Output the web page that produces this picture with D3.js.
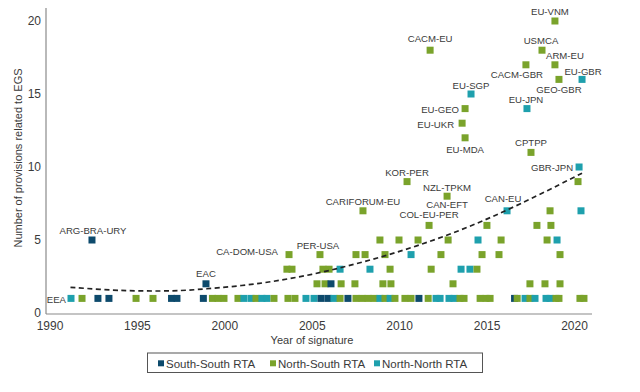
<!DOCTYPE html>
<html>
<head>
<meta charset="utf-8">
<script src="https://cdn.jsdelivr.net/npm/d3@7"></script>
<style>
  html, body { margin: 0; padding: 0; background: #fff; }
  svg { display: block; font-family: "Liberation Sans", Arial, sans-serif; }
</style>
</head>
<body>
<svg id="chart" width="640" height="392"></svg>
<script>
// ---------- DATA ----------
const seriesNames = ["South-South RTA", "North-South RTA", "North-North RTA"];
const yTicks = [0, 5, 10, 15, 20];
const xTicks = [1990, 1995, 2000, 2005, 2010, 2015, 2020];

// South-South RTAs: [year of signature, number of EGS provisions]
const southSouth = [
  [1992.43, 5], [1992.77, 1], [1993.40, 1], [1996.98, 1], [1997.29, 1],
  [1998.80, 1], [1998.95, 2], [2005.53, 1], [2005.93, 1], [2006.10, 2],
  [2007.07, 1], [2011.13, 1], [2016.60, 1]
];

// North-South RTAs
const northSouth = [
  // value 1
  [1991.86, 1], [1994.95, 1], [1995.92, 1], [1999.32, 1], [1999.64, 1], [1999.98, 1],
  [2000.78, 1], [2001.81, 1], [2002.84, 1], [2003.64, 1], [2004.04, 1], [2006.62, 1],
  [2007.53, 1], [2007.88, 1], [2008.22, 1], [2008.56, 1], [2009.19, 1], [2009.76, 1],
  [2010.33, 1], [2010.68, 1], [2011.66, 1], [2013.48, 1], [2013.71, 1], [2014.63, 1],
  [2014.97, 1], [2015.20, 1], [2016.75, 1], [2017.48, 1], [2018.97, 1], [2019.14, 1],
  [2020.34, 1], [2020.57, 1],
  // value 2
  [2005.30, 2], [2005.76, 2], [2006.68, 2], [2007.47, 2], [2009.07, 2], [2009.53, 2],
  [2013.08, 2], [2017.48, 2], [2018.34, 2], [2019.20, 2],
  // value 3
  [2003.58, 3], [2003.87, 3], [2005.64, 3], [2005.99, 3], [2009.48, 3], [2011.83, 3],
  [2014.45, 3],
  // value 4
  [2003.70, 4], [2005.47, 4], [2007.53, 4], [2008.05, 4], [2009.19, 4], [2012.39, 4],
  [2014.74, 4], [2015.71, 4], [2019.20, 4],
  // value 5
  [2008.90, 5], [2009.99, 5], [2011.08, 5], [2012.80, 5], [2015.83, 5], [2018.46, 5],
  // value 6
  [2011.71, 6], [2015.02, 6], [2017.88, 6], [2018.68, 6],
  // value 7+
  [2007.93, 7], [2018.63, 7], [2012.74, 8], [2010.45, 9], [2020.23, 9],
  [2017.54, 11], [2013.77, 12], [2013.60, 13], [2013.77, 14], [2019.14, 16],
  [2017.25, 17], [2018.91, 17], [2011.77, 18], [2018.17, 18], [2018.91, 20]
];

// North-North RTAs
const northNorth = [
  [1991.23, 1], [2001.12, 1], [2001.53, 1], [2002.15, 1], [2002.44, 1], [2004.67, 1],
  [2005.13, 1], [2006.27, 1], [2008.90, 1], [2009.48, 1], [2012.11, 1], [2012.34, 1],
  [2012.85, 1], [2013.14, 1], [2017.20, 1], [2017.77, 1], [2018.40, 1], [2018.63, 1],
  [2006.62, 3], [2008.33, 3], [2013.54, 3], [2014.05, 3],
  [2010.68, 4], [2014.51, 5], [2019.03, 5],
  [2016.17, 7], [2020.40, 7], [2020.29, 10], [2017.31, 14], [2014.11, 15], [2020.46, 16]
];

// Labelled agreements: [name, year, value]
const labelNames = [
  ["EEA", 1991.23, 1], ["ARG-BRA-URY", 1992.43, 5], ["EAC", 1998.95, 2],
  ["CA-DOM-USA", 2003.70, 4], ["PER-USA", 2005.47, 4], ["CARIFORUM-EU", 2007.93, 7],
  ["KOR-PER", 2010.45, 9], ["NZL-TPKM", 2012.74, 8], ["CAN-EFT", 2012.74, 8],
  ["COL-EU-PER", 2011.71, 6], ["CAN-EU", 2016.17, 7], ["GBR-JPN", 2020.29, 10],
  ["CPTPP", 2017.54, 11], ["EU-MDA", 2013.77, 12], ["EU-UKR", 2013.60, 13],
  ["EU-GEO", 2013.77, 14], ["EU-SGP", 2014.11, 15], ["EU-JPN", 2017.31, 14],
  ["CACM-EU", 2011.77, 18], ["CACM-GBR", 2017.25, 17], ["GEO-GBR", 2019.14, 16],
  ["EU-GBR", 2020.46, 16], ["ARM-EU", 2018.91, 17], ["USMCA", 2018.17, 18],
  ["EU-VNM", 2018.91, 20]
];

// Dashed trend curve: [year, value]
const trendYears  = [1991.2, 1994, 1997, 1999, 2002, 2005, 2008, 2011, 2014, 2017, 2020.5];
const trendValues = [1.76, 1.55, 1.52, 1.66, 2.03, 2.65, 3.52, 4.6, 5.92, 7.52, 9.6];

// ---------- LAYOUT / STYLE ----------
const colors = { "South-South RTA": "#0d4a6c", "North-South RTA": "#7aa32b", "North-North RTA": "#1ea0ad" };
const textColor = "#3a3a3a";
const sq = 7;

// label offsets [dx, dy, anchor] relative to the point (pixels)
const labelLayout = {
  "EEA": [-5, 1, "end"], "ARG-BRA-URY": [1, -9, "middle"], "EAC": [0, -10, "middle"],
  "CA-DOM-USA": [-11, -3, "end"], "PER-USA": [-2, -9, "middle"], "CARIFORUM-EU": [0, -9, "middle"],
  "KOR-PER": [0, -9, "middle"], "NZL-TPKM": [0, -9, "middle"], "CAN-EFT": [0, 8, "middle"],
  "COL-EU-PER": [0, -11, "middle"], "CAN-EU": [-4, -12, "middle"], "GBR-JPN": [-6, 1, "end"],
  "CPTPP": [0, -10, "middle"], "EU-MDA": [0, 12, "middle"], "EU-UKR": [-8, 1, "end"],
  "EU-GEO": [-6, 1, "end"], "EU-SGP": [0, -8, "middle"], "EU-JPN": [-1, -9, "middle"],
  "CACM-EU": [0, -12, "middle"], "CACM-GBR": [-9, 10, "middle"], "GEO-GBR": [0, 10, "middle"],
  "EU-GBR": [1, -8, "middle"], "ARM-EU": [10, -9, "middle"], "USMCA": [-1, -10, "middle"],
  "EU-VNM": [-5, -9, "middle"]
};

const svg = d3.select("#chart");
const x = d3.scaleLinear().domain([1990, 2020]).range([49.5, 574]);
const y = d3.scaleLinear().domain([0, 20]).range([313, 21]);

// axes lines
svg.append("line").attr("x1", 46).attr("x2", 46).attr("y1", 8).attr("y2", 314)
  .attr("stroke", "#8a8a8a").attr("stroke-width", 1.2);
svg.append("line").attr("x1", 46).attr("x2", 592).attr("y1", 314).attr("y2", 314)
  .attr("stroke", "#8a8a8a").attr("stroke-width", 1.2);

// y axis ticks
const gy = svg.append("g").attr("transform", "translate(46,0)")
  .call(d3.axisLeft(y).tickValues(yTicks).tickSize(0).tickPadding(5).tickFormat(d3.format("d")));
gy.select(".domain").remove();
gy.selectAll("text").attr("font-size", 12).attr("fill", textColor).attr("font-family", "Liberation Sans, Arial, sans-serif");

// x axis ticks
const gx = svg.append("g").attr("transform", "translate(0,314)")
  .call(d3.axisBottom(x).tickValues(xTicks).tickSize(0).tickPadding(7).tickFormat(d3.format("d")));
gx.select(".domain").remove();
gx.selectAll("text").attr("font-size", 12).attr("fill", textColor).attr("font-family", "Liberation Sans, Arial, sans-serif");

// axis titles
svg.append("text").attr("x", 312).attr("y", 344).attr("text-anchor", "middle")
  .attr("font-size", 11).attr("fill", textColor).text("Year of signature");
svg.append("text").attr("transform", "translate(22,158) rotate(-90)").attr("text-anchor", "middle")
  .attr("font-size", 11).attr("fill", textColor).text("Number of provisions related to EGS");

// points, drawn chronologically
const points = []
  .concat(southSouth.map(d => ({ year: d[0], value: d[1], type: seriesNames[0] })))
  .concat(northSouth.map(d => ({ year: d[0], value: d[1], type: seriesNames[1] })))
  .concat(northNorth.map(d => ({ year: d[0], value: d[1], type: seriesNames[2] })))
  .sort((a, b) => a.year - b.year);

svg.append("g").selectAll("rect").data(points).join("rect")
  .attr("x", d => x(d.year) - sq / 2)
  .attr("y", d => y(d.value) - sq / 2)
  .attr("width", sq).attr("height", sq)
  .attr("fill", d => colors[d.type]);

// trend line
const trend = trendYears.map((t, i) => [t, trendValues[i]]);
svg.append("path").datum(trend)
  .attr("d", d3.line().x(d => x(d[0])).y(d => y(d[1])).curve(d3.curveCatmullRom))
  .attr("fill", "none").attr("stroke", "#222").attr("stroke-width", 1.7)
  .attr("stroke-dasharray", "5,3.5");

// labels
svg.append("g").selectAll("text").data(labelNames).join("text")
  .attr("x", d => x(d[1]) + labelLayout[d[0]][0])
  .attr("y", d => y(d[2]) + labelLayout[d[0]][1])
  .attr("dy", "0.35em")
  .attr("text-anchor", d => labelLayout[d[0]][2])
  .attr("font-size", 9.6).attr("fill", textColor)
  .text(d => d[0]);

// legend
const lg = svg.append("g");
lg.append("rect").attr("x", 147.5).attr("y", 353).attr("width", 335).attr("height", 19.5)
  .attr("fill", "none").attr("stroke", "#555").attr("stroke-width", 1);
const legendX = [158, 270, 374];
seriesNames.forEach((name, i) => {
  lg.append("rect").attr("x", legendX[i]).attr("y", 360.3).attr("width", 6).attr("height", 6)
    .attr("fill", colors[name]);
  lg.append("text").attr("x", legendX[i] + 8).attr("y", 363.5).attr("dy", "0.35em")
    .attr("font-size", 11.5).attr("fill", textColor).text(name);
});
</script>
</body>
</html>
